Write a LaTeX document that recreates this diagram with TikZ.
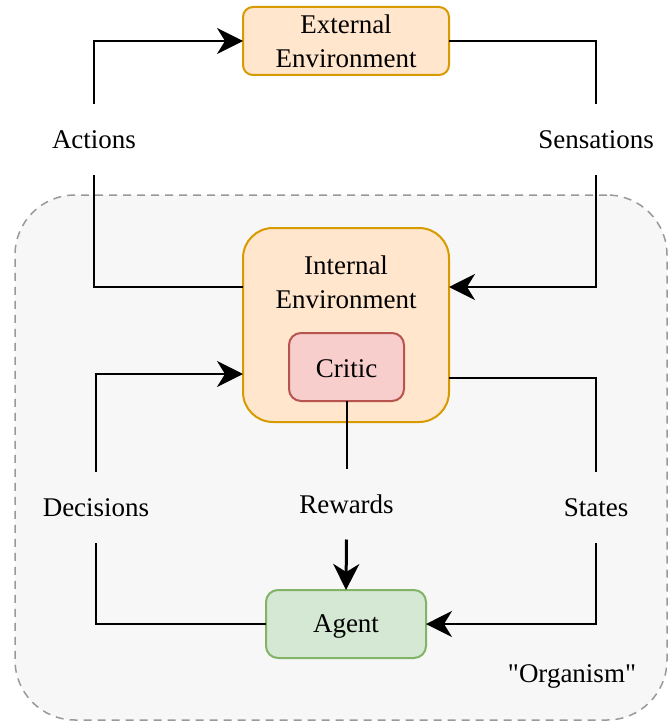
\documentclass[tikz,border=0pt]{standalone}
\usepackage{fontspec}
\setmainfont{Liberation Serif}[Ligatures=TeXOff]
\usetikzlibrary{arrows.meta}
\definecolor{envfill}{HTML}{FFE6CC}
\definecolor{envline}{HTML}{D79B00}
\definecolor{criticfill}{HTML}{F8CECC}
\definecolor{criticline}{HTML}{B85450}
\definecolor{agentfill}{HTML}{D5E8D4}
\definecolor{agentline}{HTML}{82B366}
\definecolor{orgfill}{HTML}{F7F7F7}
\definecolor{orgline}{HTML}{999999}
\begin{document}
\begin{tikzpicture}[x=0.5pt,y=-0.5pt,
  every node/.style={font=\fontsize{13.5}{17}\selectfont, inner sep=0pt, outer sep=0pt},
  box/.style={draw, line width=1pt, align=center},
  envbox/.style={box, fill=envfill, draw=envline},
  criticbox/.style={box, fill=criticfill, draw=criticline, rounded corners=6pt},
  agentbox/.style={box, fill=agentfill, draw=agentline, rounded corners=6pt},
  organism/.style={draw=orgline, fill=orgfill, line width=0.75pt,
    dash pattern=on 4pt off 3pt, rounded corners=30pt},
  flowlabel/.style={minimum height=35.5pt, align=center},
  link/.style={line width=1pt},
  arrowlink/.style={link, -{Stealth[length=13pt,width=13pt,inset=4pt]}}
]
\useasboundingbox (0,0) rectangle (668,722);

% container for the organism
\node[organism, minimum width=326pt, minimum height=262.5pt] (org) at (341,457.5) {};
\node (orgtext) at (572,676) {"Organism"};

% environments
\node[envbox, rounded corners=5pt, minimum width=103pt, minimum height=34pt] (extenv) at (346,41)
  {External\\Environment};
\node[envbox, rounded corners=15pt, minimum width=103pt, minimum height=97pt] (intenv) at (346,325) {};
\node[align=center] (inttext) at (346,282.5) {Internal\\Environment};

\node[criticbox, minimum width=57.5pt, minimum height=34pt] (critic) at (346.5,367)
  {\raisebox{-1pt}[\height][\depth]{Critic}};
\node[agentbox, minimum width=80pt, minimum height=34pt] (agent) at (346,624)
  {\raisebox{-1.2pt}[\height][\depth]{Agent}};

% edge labels
\node[flowlabel] (actions) at (94,139.5) {Actions};
\node[flowlabel] (sens) at (596,139.5) {Sensations};
\node[flowlabel] (dec) at (96,507.5) {Decisions};
\node[flowlabel] (states) at (596,507.5) {States};
\node[flowlabel] (rew) at (346.5,504) {Rewards};

% actions: internal environment -> external environment
\draw[link] ([yshift=19pt]intenv.west) -| (actions.south);
\draw[arrowlink] (actions.north) |- (extenv.west);

% sensations: external environment -> internal environment
\draw[link] (extenv.east) -| (sens.north);
\draw[arrowlink] (sens.south) |- ([yshift=19pt]intenv.east);

% states: internal environment -> agent
\draw[link] ([yshift=-26.5pt]intenv.east) -| (states.north);
\draw[arrowlink] (states.south) |- (agent.east);

% decisions: agent -> internal environment
\draw[link] (agent.west) -| (dec.south);
\draw[arrowlink] (dec.north) |- ([yshift=-24.5pt]intenv.west);

% rewards: critic -> agent
\draw[link] (critic.south) -- (rew.north);
\draw[arrowlink, line width=1.5pt] (rew.south) -- (agent.north);
\end{tikzpicture}
\end{document}
